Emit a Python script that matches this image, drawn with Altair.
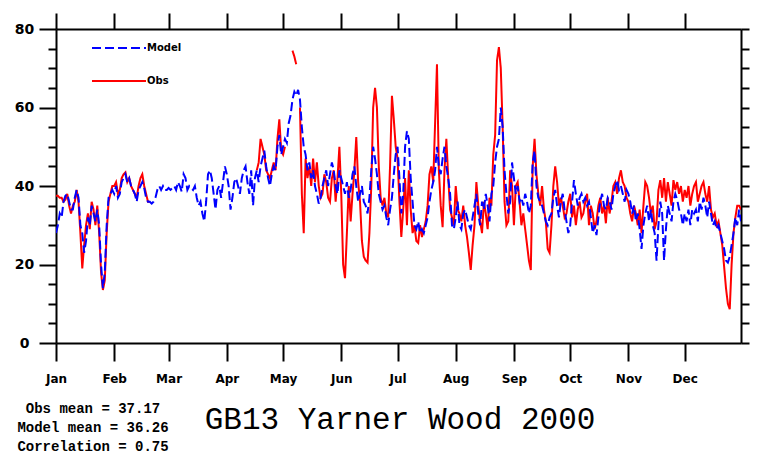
import altair as alt
import pandas as pd

months = ["Jan", "Feb", "Mar", "Apr", "May", "Jun", "Jul", "Aug", "Sep", "Oct", "Nov", "Dec"]
month_start_day = [1, 32, 61, 92, 122, 153, 183, 214, 245, 275, 306, 336]
y_ticks = list(range(0, 81, 5))

N = None
model_jan = [28, 30, 33, 32, 36, 37.5, 38, 36, 34, 34, 37, 39, 37, 30, 28, 23, 26, 32, 30, 35, 33, 31, 34, 30, 20, 14, 18, 30, 37, 38, 39]
model_feb = [38, 40, 37, 38, 41, 42, 43, 41, 42, 40, 39, 38, 36, 39, 40, 41, 39.5, 37, 36, 36, 35.5, 36, 37, 39, 40, 39, 40, 39, 39]
model_mar = [39.5, 39, 39.5, 40, 39, 41, 40, 38.5, 43, 42, 39, 40, 39.5, 39, 40, 37, 35, 36, 33, 31, 36, 43, 44, 42, 38, 34, 39, 40, 37, 41, 45]
model_apr = [43, 40, 34, 37, 41, 42, 40, 38, 42, 44, 45, 41, 38, 44, 35, 42, 44, 41, 45, 47, 49, 45, 42, 40, 43, 45, 44, 50, 53, 48]
model_may = [50, 52, 51, 56, 58, 62, 64, 63, 64.5, 62, 55, 50, 48, 44, 46, 42, 44, 40, 38, 35.5, 37, 40, 42, 44, 40, 43, 46, 44, 40, 38, 44]
model_jun = [42, 40, 38, 41, 37, 39, 43, 45, 40, 36, 38, 40, 36, 35, 33, 37, 44, 50, 47, 43, 38, 36, 34, 35, 32, 30, 34, 37, 43, 48]
model_jul = [50, 42, 33, 38, 50, 54, 52, 42, 36, 30, 29, 31, 28, 29, 28, 30, 32, 36, 39, 41, 44, 50, 45, 43, 47, 50, 45, 42, 38, 30, 29]
model_aug = [32, 36, 30, 29, 33, 34, 32, 30, 29, 32, 35, 38, 33, 30, 36, 34, 38, 35, 31, 38, 40, 46, 50, 52, 60, 55, 44, 38, 33, 36, 46]
model_sep = [42, 38, 40, 36, 37, 35, 38, 36, 33, 35, 46, 49, 40, 37, 36, 35, 33, 31, 30, 32, 33, 37, 39, 35, 32, 36, 38, 34, 31, 28]
model_oct = [30, 36, 41.5, 38, 35, 37, 38, 36, 37, 35, 36, 32, 28, 30, 27.5, 32, 36, 38, 35, 34, 37, 36, 34, 38, 40, 41.5, 39, 40, 38, 36, 39]
model_nov = [38, 36, 33, 35, 31, 33, 29, 24, 30, 33, 35, 31, 34, 30, 28, 21, 30, 36, 33, 21, 29, 35, 33, 31, 36, 38, 36.5, 34, 33, 30]
model_dec = [33, 31, 34, 30, 34, 33, 34, 31, 36, 34, 37, 35, 32, 36, 33, 30, 31, 29, 30, 28, 26, 24, 21, 20.5, 22, 25, 28, 32, 30, 34, 31]

obs_jan = [37.5, 37.5, 37, 37, 36, 36.5, 38, 35, 33, 35, 36, 39, 36, 28, 19, 25, 30, 33, 29, 36, 34, 30, 35, 28, 18, 13.5, 16, 28, 36, 38, 40]
obs_feb = [40, 41, 38, 39, 42, 43, 43.5, 41, 42, 40, 39, 38, 37, 40, 42, 43, 40, 38, 36, 36, N, N, N, N, N, N, N, N, N]
obs_mar = [N] * 31
obs_apr = [N] * 16 + [44, 46, 52, 50, 48, 44, 43, 42, 44, 46, 44, 52, 57, 49]
obs_may = [48, 50, N, N, N, 74.5, 73, 71, N, 60, 38, 28, 47, 42, 45, 40, 47, 41, 46, 40, 37, 38, 43, 41, 37, 36, 42, 44, 36, 42, 50]
obs_jun = [38, 20, 16.5, 28, 40, 31, 38, 44, 52.5, 41, 36, 26, 22, 21, 20.5, 28, 40, 60, 65, 60, 45, 37, 35, 37, 33, 32, 45, 63, 57, 50]
obs_jul = [47, 36, 27, 34, 42, 30, 44, 34, 28, 30, 26, 25.5, 30, 27, 29, 31, 35, 43, 45, 41, 56, 71, 44, 35, 29.5, 44, 52, 42, 34, 32, 30]
obs_aug = [40, 34, 33, 31, 35, 30, 27, 23, 18.6, 25, 30, 41, 35, 31, 28, 36, 33, 29, 37, 35, 48, 53, 72, 75.4, 70, 55, 36, 30, 31, 44, 40]
obs_sep = [30, 40, 41, 36, 30, 33, 29, 25, 21, 18.6, 45, 52, 43, 38, 35, 40, 34, 31, 24, 23, 30, 40, 45, 41, 35, 37, 35, 32, 33, 36]
obs_oct = [38, 32, 35, 30, 34, 36, 32, 33, 36, 38, 30, 35, 33, 29, 31, 35, 37, 33, 35, 30.5, 37, 33, 36, 40, 41, 38, 42, 44, 41, 40, 37]
obs_nov = [36, 33, 31, 35, 33, 30, 34, 28, 35, 41, 40, 37, 33, 35, 29, 31, 39, 41.5, 37, 42, 36, 41, 38, 35, 41.5, 39, 41, 38, 40, 36]
obs_dec = [39, 37, 40, 35, 38, 40, 41, 36, 38, 40, 41, 38, 36, 40, 34, 32, 33, 30, 31, 28, 25, 19.5, 14, 10, 8.6, 20, 28, 32, 35, 35, 34]

model = (model_jan + model_feb + model_mar + model_apr + model_may + model_jun +
         model_jul + model_aug + model_sep + model_oct + model_nov + model_dec)
obs = (obs_jan + obs_feb + obs_mar + obs_apr + obs_may + obs_jun +
       obs_jul + obs_aug + obs_sep + obs_oct + obs_nov + obs_dec)
assert len(model) == 366 and len(obs) == 366
days = list(range(1, 367))

title_text = "GB13 Yarner Wood 2000"
stats_text = "Obs mean = 37.17\nModel mean = 36.26\nCorrelation = 0.75"
series_names = ["Model", "Obs"]
series_colors = ["#0000ff", "#ff0000"]
series_dash = [[9, 4], [1, 0]]

df = pd.DataFrame({
    "day": days + days,
    "value": model + obs,
    "series": ["Model"] * 366 + ["Obs"] * 366,
})

month_arr = "[" + ",".join("'%s'" % m for m in months) + "]"
start_arr = "[" + ",".join(str(d) for d in month_start_day) + "]"
month_label_expr = f"{month_arr}[indexof({start_arr}, datum.value)]"

LBL_FONT = "DejaVu Sans"
xscale = alt.Scale(domain=[1, 366], nice=False, zero=False)
yscale = alt.Scale(domain=[0, 80], nice=False, zero=False)


def make_legend():
    return alt.Legend(
        orient="none", legendX=35, legendY=-9, title=None, symbolType="stroke",
        symbolSize=2916, symbolStrokeWidth=2, rowPadding=-28, padding=0,
        labelFont=LBL_FONT, labelFontSize=10, labelFontWeight="bold",
        labelColor="black", labelOffset=0,
    )


color = alt.Color("series:N", scale=alt.Scale(domain=series_names, range=series_colors),
                  legend=make_legend())
dash = alt.StrokeDash("series:N", scale=alt.Scale(domain=series_names, range=series_dash),
                      legend=make_legend())

obs_layer = alt.Chart(df).transform_filter("datum.series === 'Obs'").mark_line(
    strokeWidth=2, clip=True
).encode(
    x=alt.X("day:Q", scale=xscale, axis=alt.Axis(
        orient="bottom", values=month_start_day, labelExpr=month_label_expr,
        tickSize=18, tickWidth=2, tickColor="black", domainWidth=2, domainColor="black",
        labelPadding=12, labelFont=LBL_FONT, labelFontSize=12, labelFontWeight="bold",
        labelColor="black", grid=False, title=None, labelFlush=False,
    )),
    y=alt.Y("value:Q", scale=yscale, axis=alt.Axis(
        orient="left", values=y_ticks,
        tickSize={"condition": {"test": "datum.value % 20 === 0", "value": 17}, "value": 8},
        labelExpr="datum.value % 20 === 0 ? datum.label : ''",
        tickWidth=2, tickColor="black", domainWidth=2, domainColor="black",
        labelAlign="center", labelBaseline="middle", labelPadding=15,
        labelFont=LBL_FONT, labelFontSize=14, labelFontWeight="bold",
        labelColor="black", grid=False, title=None, labelFlush=False,
    )),
    color=color,
    strokeDash=dash,
)

model_layer = alt.Chart(df).transform_filter("datum.series === 'Model'").mark_line(
    strokeWidth=2, clip=True
).encode(
    x=alt.X("day:Q", scale=xscale, axis=alt.Axis(
        orient="top", values=month_start_day, labels=False,
        tickSize=16, tickWidth=2, tickColor="black", domainWidth=2, domainColor="black",
        grid=False, title=None,
    )),
    y=alt.Y("value:Q", scale=yscale, axis=alt.Axis(
        orient="right", values=y_ticks, labels=False,
        tickSize=8, tickWidth=2, tickColor="black", domainWidth=2, domainColor="black",
        grid=False, title=None,
    )),
    color=color,
    strokeDash=dash,
)

title_layer = alt.Chart(pd.DataFrame({"t": [title_text]})).mark_text(
    font="Liberation Mono", fontSize=31, align="center", baseline="middle", color="black"
).encode(text="t:N", x=alt.value(344), y=alt.value(391))

stats_layer = alt.Chart(pd.DataFrame({"t": [stats_text]})).mark_text(
    font="Liberation Mono", fontSize=14, fontWeight="bold", align="center",
    baseline="top", lineBreak="\n", lineHeight=19, color="black"
).encode(text="t:N", x=alt.value(37), y=alt.value(373))

chart = alt.layer(obs_layer, model_layer, title_layer, stats_layer).resolve_axis(
    x="independent", y="independent"
).properties(
    width=685, height=314,
    padding={"left": 56, "top": 29, "right": 17, "bottom": 113},
    autosize="none",
).configure_view(stroke=None).configure(background="white")

chart.save("out.html", embed_options={"renderer": "svg", "actions": False})
